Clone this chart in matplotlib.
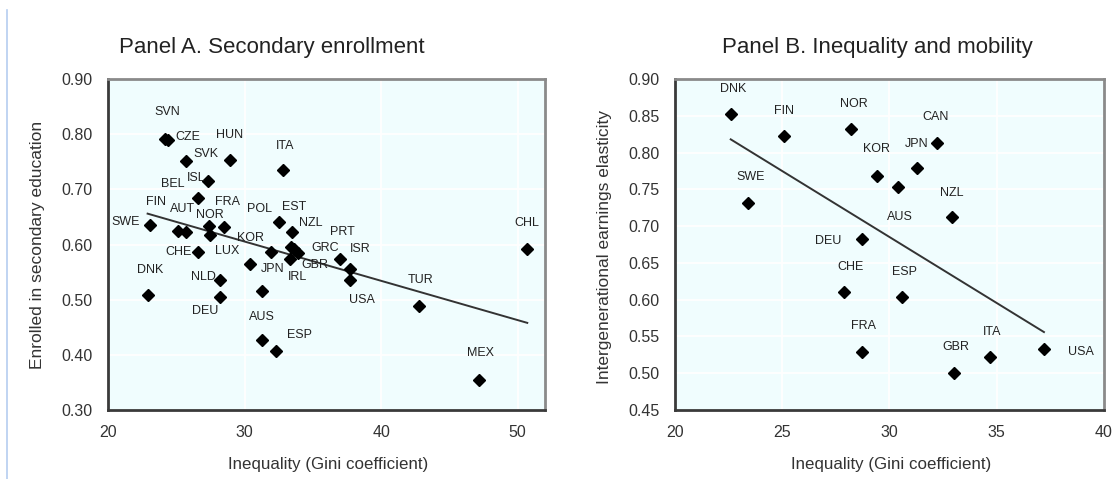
import matplotlib.pyplot as plt
from matplotlib.lines import Line2D

plt.rcParams['font.family'] = ['Liberation Sans', 'DejaVu Sans']

# Panel A: Gini vs secondary enrollment
a_country = ['SVN', 'CZE', 'SVK', 'HUN', 'ISL', 'BEL', 'FIN', 'AUT', 'NOR', 'LUX', 'FRA',
             'SWE', 'CHE', 'DNK', 'NLD', 'DEU', 'POL', 'EST', 'NZL', 'GRC', 'GBR', 'IRL',
             'KOR', 'JPN', '', 'PRT', 'ISR', 'USA', 'CHL', 'TUR', 'MEX', 'AUS', 'ESP', 'ITA']
a_gini = [24.2, 24.4, 25.7, 28.9, 27.3, 26.6, 25.1, 25.7, 27.5, 27.4, 28.5,
          23.1, 26.6, 22.9, 28.2, 28.2, 32.5, 33.5, 33.4, 33.6, 33.9, 33.3,
          31.9, 30.4, 31.3, 37.0, 37.7, 37.7, 50.7, 42.8, 47.2, 31.3, 32.3, 32.8]
a_enrol = [0.791, 0.789, 0.751, 0.753, 0.715, 0.684, 0.624, 0.622, 0.618, 0.633, 0.631,
           0.635, 0.587, 0.509, 0.536, 0.505, 0.640, 0.622, 0.596, 0.591, 0.585, 0.573,
           0.587, 0.564, 0.515, 0.573, 0.555, 0.536, 0.591, 0.489, 0.355, 0.427, 0.407, 0.735]
a_trend_x = [22.9, 50.7]
a_trend_y = [0.656, 0.458]

# Panel B: Gini vs intergenerational earnings elasticity
b_country = ['DNK', 'FIN', 'SWE', 'NOR', 'CAN', 'JPN', 'KOR', 'AUS', 'NZL', 'DEU',
             'CHE', 'ESP', 'FRA', 'GBR', 'ITA', 'USA']
b_gini = [22.6, 25.1, 23.4, 28.2, 32.2, 31.3, 29.4, 30.4, 32.9, 28.7,
          27.9, 30.6, 28.7, 33.0, 34.7, 37.2]
b_elast = [0.852, 0.822, 0.731, 0.832, 0.813, 0.779, 0.768, 0.753, 0.713, 0.682,
           0.611, 0.603, 0.529, 0.500, 0.522, 0.533]
b_trend_x = [22.6, 37.2]
b_trend_y = [0.818, 0.556]

# label offsets in pixels (dx, dy)
a_off = [(2, 27), (20, 3), (20, 7), (0, 25), (-12, 3), (-25, 14), (-22, 29), (-3, 23), (-1, 20),
         (18, -25), (3, 25), (-25, 3), (-20, 0), (3, 25), (-17, 3), (-15, -14), (-19, 13),
         (2, 25), (20, 24), (31, 1), (17, -12), (8, -18), (-20, 14), (23, -5), (0, 0),
         (2, 27), (11, 20), (12, -20), (0, 26), (1, 26), (1, 27), (0, 23), (24, 16), (2, 24)]
b_off = [(2, 25), (0, 25), (3, 26), (3, 25), (-1, 26), (-1, 24), (0, 27), (2, -30), (0, 24),
         (-33, -2), (6, 25), (2, 25), (2, 26), (2, 26), (2, 25), (37, -3)]

fig = plt.figure(figsize=(11.18, 4.79), dpi=100)
fig.add_artist(Line2D([0.0063, 0.0063], [0.0, 0.98], color='#b5cdf0', lw=1.2))

bg = '#f0fdfe'
txt = '#222222'


def style(ax):
    ax.set_facecolor(bg)
    ax.grid(True, color='white', lw=1.3)
    ax.set_axisbelow(True)
    for s in ['left', 'bottom']:
        ax.spines[s].set_color('#3a3a3a')
        ax.spines[s].set_linewidth(2.0)
    for s in ['top', 'right']:
        ax.spines[s].set_color('#8a8a8a')
        ax.spines[s].set_linewidth(2.0)
    ax.tick_params(length=0, labelsize=11.5, colors='#333333', pad=11)


axA = fig.add_axes([0.0966, 0.144, 0.3909, 0.691])
style(axA)
axA.plot(a_trend_x, a_trend_y, color='#333333', lw=1.4, zorder=2)
axA.plot(a_gini, a_enrol, 'D', color='black', ms=6.5, zorder=3)
for c, x, y, o in zip(a_country, a_gini, a_enrol, a_off):
    axA.annotate(c, (x, y), xytext=o, textcoords='offset pixels', ha='center', va='center',
                 fontsize=9, color=txt, zorder=4)
axA.set_xlim(20, 52)
axA.set_ylim(0.3, 0.9)
axA.set_xticks([20, 30, 40, 50])
axA.set_yticks([0.3, 0.4, 0.5, 0.6, 0.7, 0.8, 0.9])
axA.set_yticklabels(['%.2f' % v for v in axA.get_yticks()])

axB = fig.add_axes([0.6037, 0.144, 0.3838, 0.691])
style(axB)
axB.plot(b_trend_x, b_trend_y, color='#333333', lw=1.4, zorder=2)
axB.plot(b_gini, b_elast, 'D', color='black', ms=6.5, zorder=3)
for c, x, y, o in zip(b_country, b_gini, b_elast, b_off):
    axB.annotate(c, (x, y), xytext=o, textcoords='offset pixels', ha='center', va='center',
                 fontsize=9, color=txt, zorder=4)
axB.set_xlim(20, 40)
axB.set_ylim(0.45, 0.9)
axB.set_xticks([20, 25, 30, 35, 40])
axB.set_yticks([0.45, 0.5, 0.55, 0.6, 0.65, 0.7, 0.75, 0.8, 0.85, 0.9])
axB.set_yticklabels(['%.2f' % v for v in axB.get_yticks()])

fig.text(272 / 1118, 1 - 48 / 479, 'Panel A. Secondary enrollment', ha='center', va='center',
         fontsize=16, color='#222222')
fig.text(877 / 1118, 1 - 48 / 479, 'Panel B. Inequality and mobility', ha='center', va='center',
         fontsize=16, color='#222222')
fig.text(328 / 1118, 1 - 464 / 479, 'Inequality (Gini coefficient)', ha='center', va='center',
         fontsize=12.2, color='#333333')
fig.text(891 / 1118, 1 - 464 / 479, 'Inequality (Gini coefficient)', ha='center', va='center',
         fontsize=12.2, color='#333333')
fig.text(38 / 1118, 1 - 245 / 479, 'Enrolled in secondary education', ha='center', va='center',
         rotation=90, fontsize=12.5, color='#333333')
fig.text(605 / 1118, 1 - 247 / 479, 'Intergenerational earnings elasticity', ha='center', va='center',
         rotation=90, fontsize=12.5, color='#333333')

fig.savefig('out.png', dpi=100)
